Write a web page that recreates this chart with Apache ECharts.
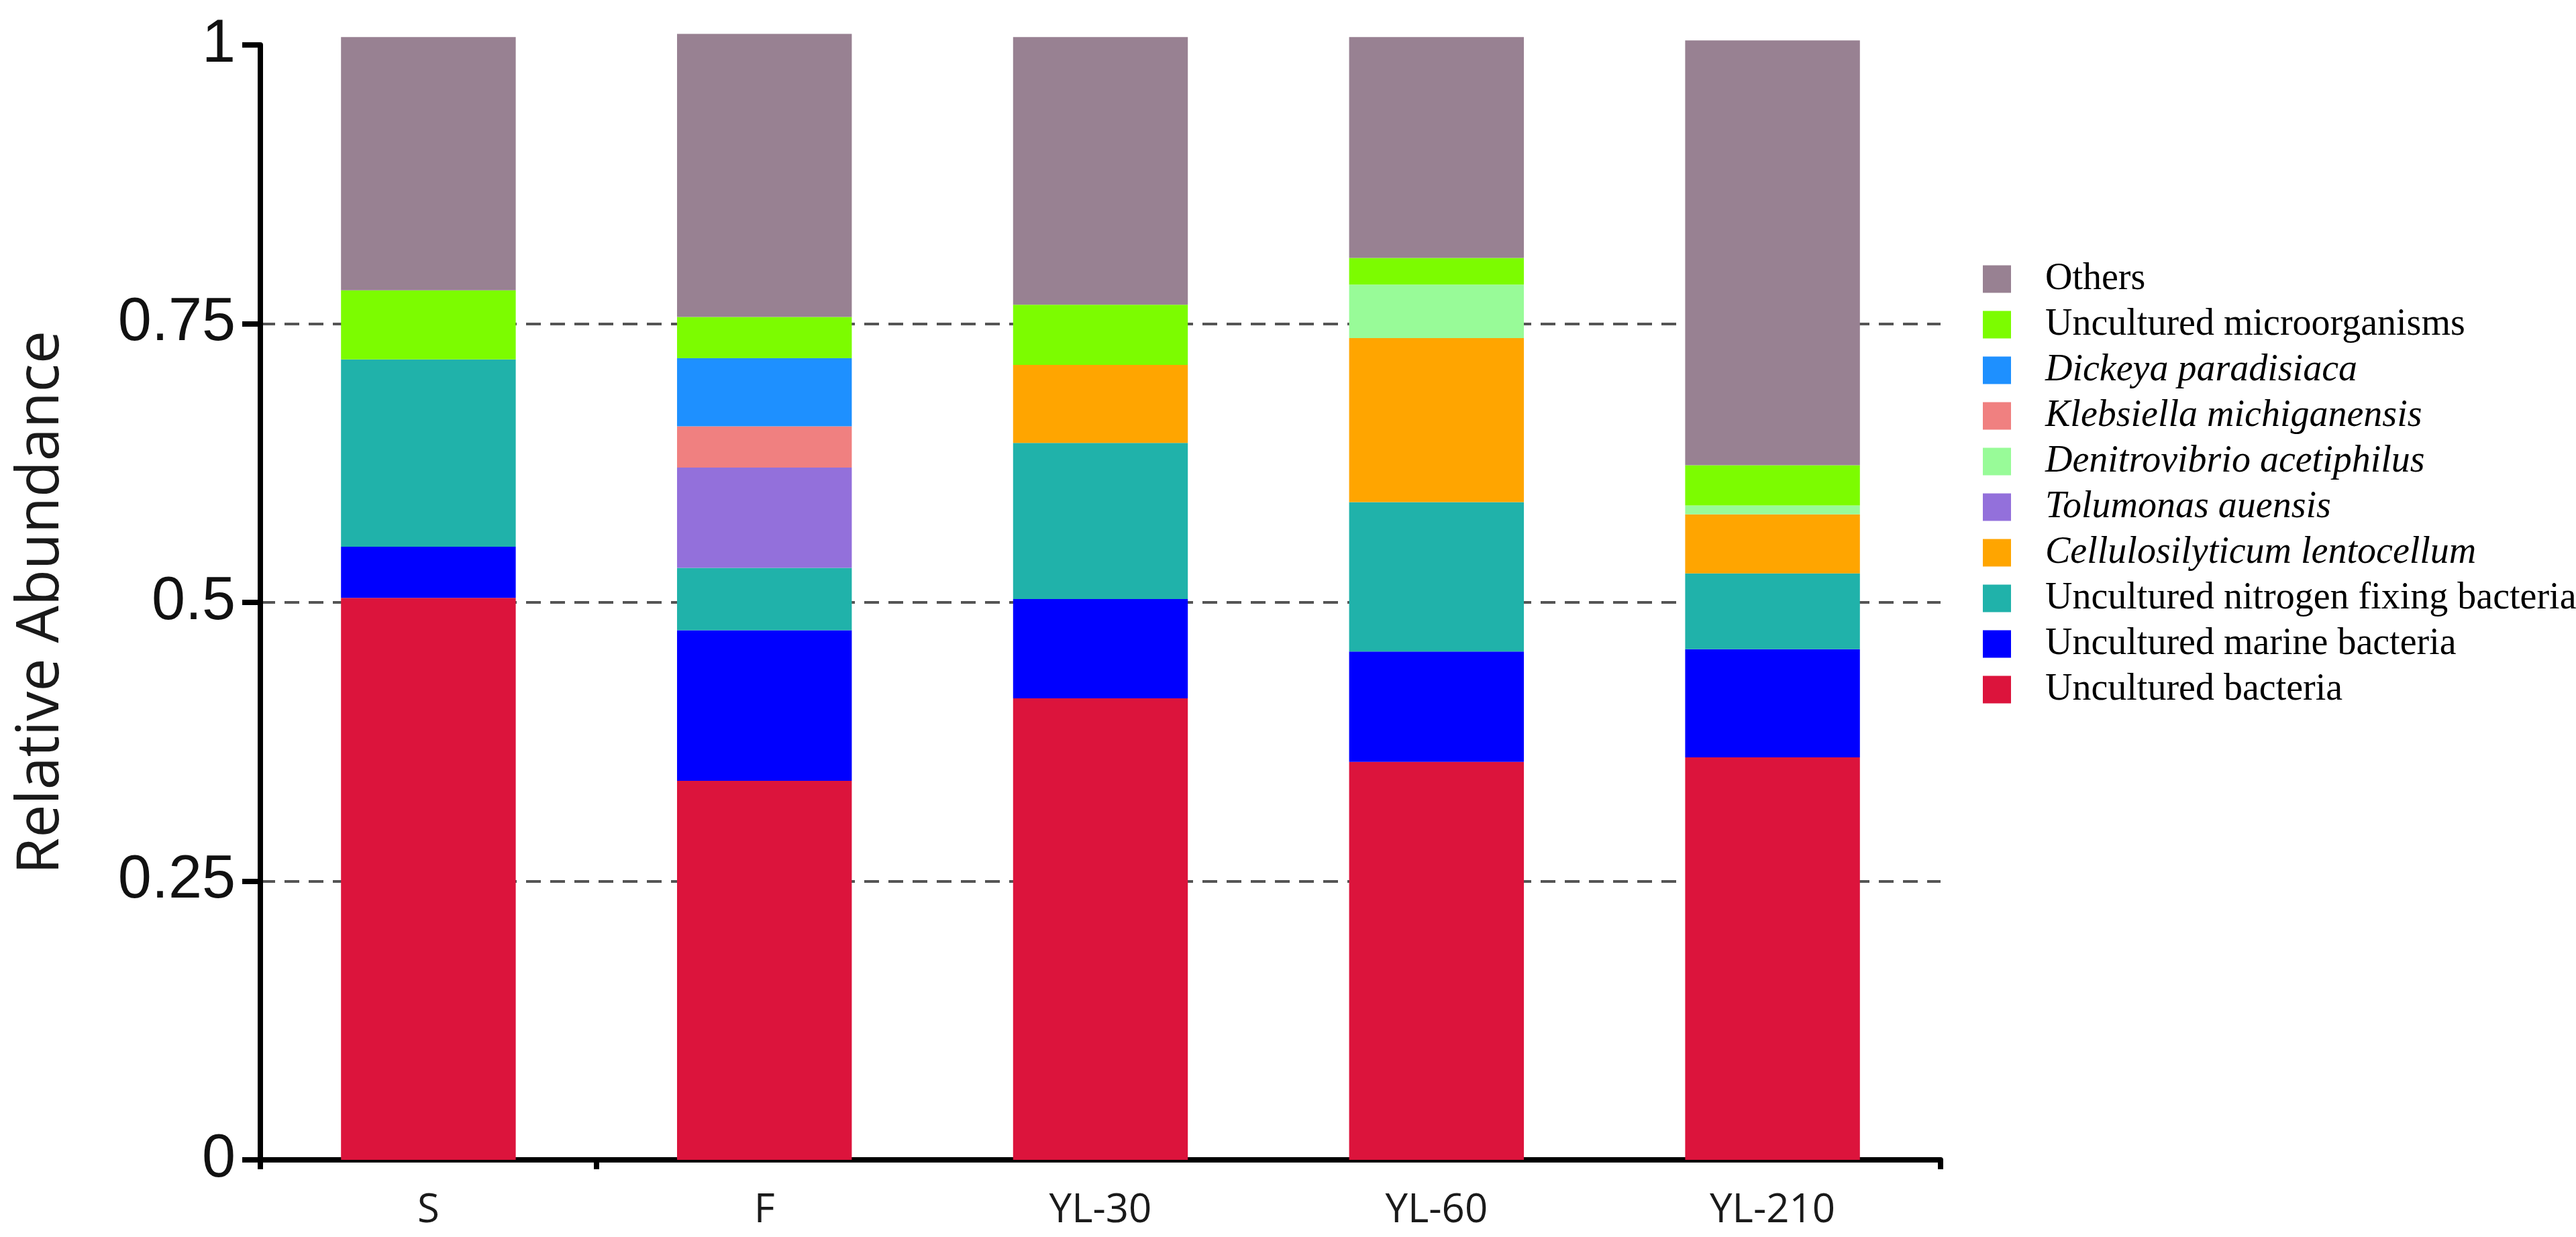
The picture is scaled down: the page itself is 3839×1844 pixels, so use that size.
<!DOCTYPE html>
<html>
<head>
    <meta charset="utf-8">
    <title>Relative Abundance</title>
    <script src="https://cdn.jsdelivr.net/npm/echarts@6/dist/echarts.min.js"></script>
    <style>
        html, body {
            margin: 0;
            padding: 0;
            background: #ffffff;
        }
        #main {
            width: 3839px;
            height: 1844px;
        }
    </style>
</head>
<body>
<div id="main"></div>
<script type="text/javascript">
    // samples on the x axis
    var categories = ['S', 'F', 'YL-30', 'YL-60', 'YL-210'];
    var yTicks = [0, 0.25, 0.5, 0.75, 1];

    // one array per taxon, stacked bottom -> top
    var uncBacteria     = [0.504, 0.340, 0.414, 0.357, 0.361];
    var uncMarine       = [0.046, 0.135, 0.089, 0.099, 0.097];
    var uncNitrogen     = [0.168, 0.056, 0.140, 0.134, 0.068];
    var cellulosilyticum = [0, 0, 0.070, 0.147, 0.053];
    var tolumonas       = [0, 0.090, 0, 0, 0];
    var denitrovibrio   = [0, 0, 0, 0.048, 0.008];
    var klebsiella      = [0, 0.037, 0, 0, 0];
    var dickeya         = [0, 0.061, 0, 0, 0];
    var uncMicro        = [0.062, 0.037, 0.054, 0.024, 0.036];
    var others          = [0.227, 0.254, 0.240, 0.198, 0.381];

    var taxa = [
        {name: 'Uncultured bacteria', data: uncBacteria, color: '#DC143C', italic: false},
        {name: 'Uncultured marine bacteria', data: uncMarine, color: '#0000FF', italic: false},
        {name: 'Uncultured nitrogen fixing bacteria', data: uncNitrogen, color: '#20B2AA', italic: false},
        {name: 'Cellulosilyticum lentocellum', data: cellulosilyticum, color: '#FFA500', italic: true},
        {name: 'Tolumonas auensis', data: tolumonas, color: '#9370DB', italic: true},
        {name: 'Denitrovibrio acetiphilus', data: denitrovibrio, color: '#98FB98', italic: true},
        {name: 'Klebsiella michiganensis', data: klebsiella, color: '#F08080', italic: true},
        {name: 'Dickeya paradisiaca', data: dickeya, color: '#1E90FF', italic: true},
        {name: 'Uncultured microorganisms', data: uncMicro, color: '#7CFC00', italic: false},
        {name: 'Others', data: others, color: '#988192', italic: false}
    ];

    var italicNames = {};
    var series = [];
    var legendNames = [];
    for (var i = 0; i < taxa.length; i++) {
        var t = taxa[i];
        italicNames[t.name] = t.italic;
        legendNames.unshift(t.name);
        series.push({
            name: t.name,
            type: 'bar',
            stack: 'total',
            barWidth: '52%',
            clip: false,
            z: 3,
            itemStyle: {color: t.color},
            data: t.data
        });
    }

    var myChart = echarts.init(document.getElementById('main'));
    var option = {
        backgroundColor: '#ffffff',
        animation: false,
        grid: {
            left: 388,
            right: 947,
            top: 67,
            bottom: 115
        },
        legend: {
            data: legendNames,
            orient: 'vertical',
            left: 2955,
            top: 388,
            padding: 0,
            itemWidth: 42,
            itemHeight: 41,
            itemGap: 12,
            icon: 'rect',
            selectedMode: false,
            formatter: function (name) {
                return (italicNames[name] ? '{i|' : '{n|') + name + '}';
            },
            textStyle: {
                fontSize: 56,
                rich: {
                    n: {
                        fontFamily: 'Liberation Serif',
                        fontSize: 56,
                        color: '#000',
                        padding: [0, 0, 0, 46]
                    },
                    i: {
                        fontFamily: 'Liberation Serif',
                        fontStyle: 'italic',
                        fontSize: 56,
                        color: '#000',
                        padding: [0, 0, 0, 46]
                    }
                }
            }
        },
        xAxis: {
            type: 'category',
            data: categories,
            axisLine: {lineStyle: {color: '#000', width: 8}},
            axisTick: {
                show: true,
                length: 14,
                lineStyle: {color: '#000', width: 8},
                interval: function (index) {
                    return index === 0 || index === 1 || index === categories.length;
                }
            },
            axisLabel: {
                margin: 46,
                fontFamily: 'Open Sans',
                fontSize: 60,
                color: '#1a1a1a'
            }
        },
        yAxis: {
            type: 'value',
            min: yTicks[0],
            max: yTicks[yTicks.length - 1],
            interval: 0.25,
            name: 'Relative Abundance',
            nameLocation: 'middle',
            nameGap: 282,
            nameTextStyle: {
                fontFamily: 'Open Sans',
                fontSize: 88,
                color: '#1a1a1a'
            },
            axisLine: {show: true, lineStyle: {color: '#000', width: 8}},
            axisTick: {show: true, length: 27, lineStyle: {color: '#000', width: 8}},
            axisLabel: {
                margin: 37,
                fontFamily: 'Liberation Sans',
                fontSize: 90,
                color: '#111'
            },
            splitLine: {
                show: true,
                showMinLine: false,
                showMaxLine: false,
                lineStyle: {color: '#555', width: 4, type: [22, 14]}
            }
        },
        series: series
    };
    myChart.setOption(option);
</script>
</body>
</html>
